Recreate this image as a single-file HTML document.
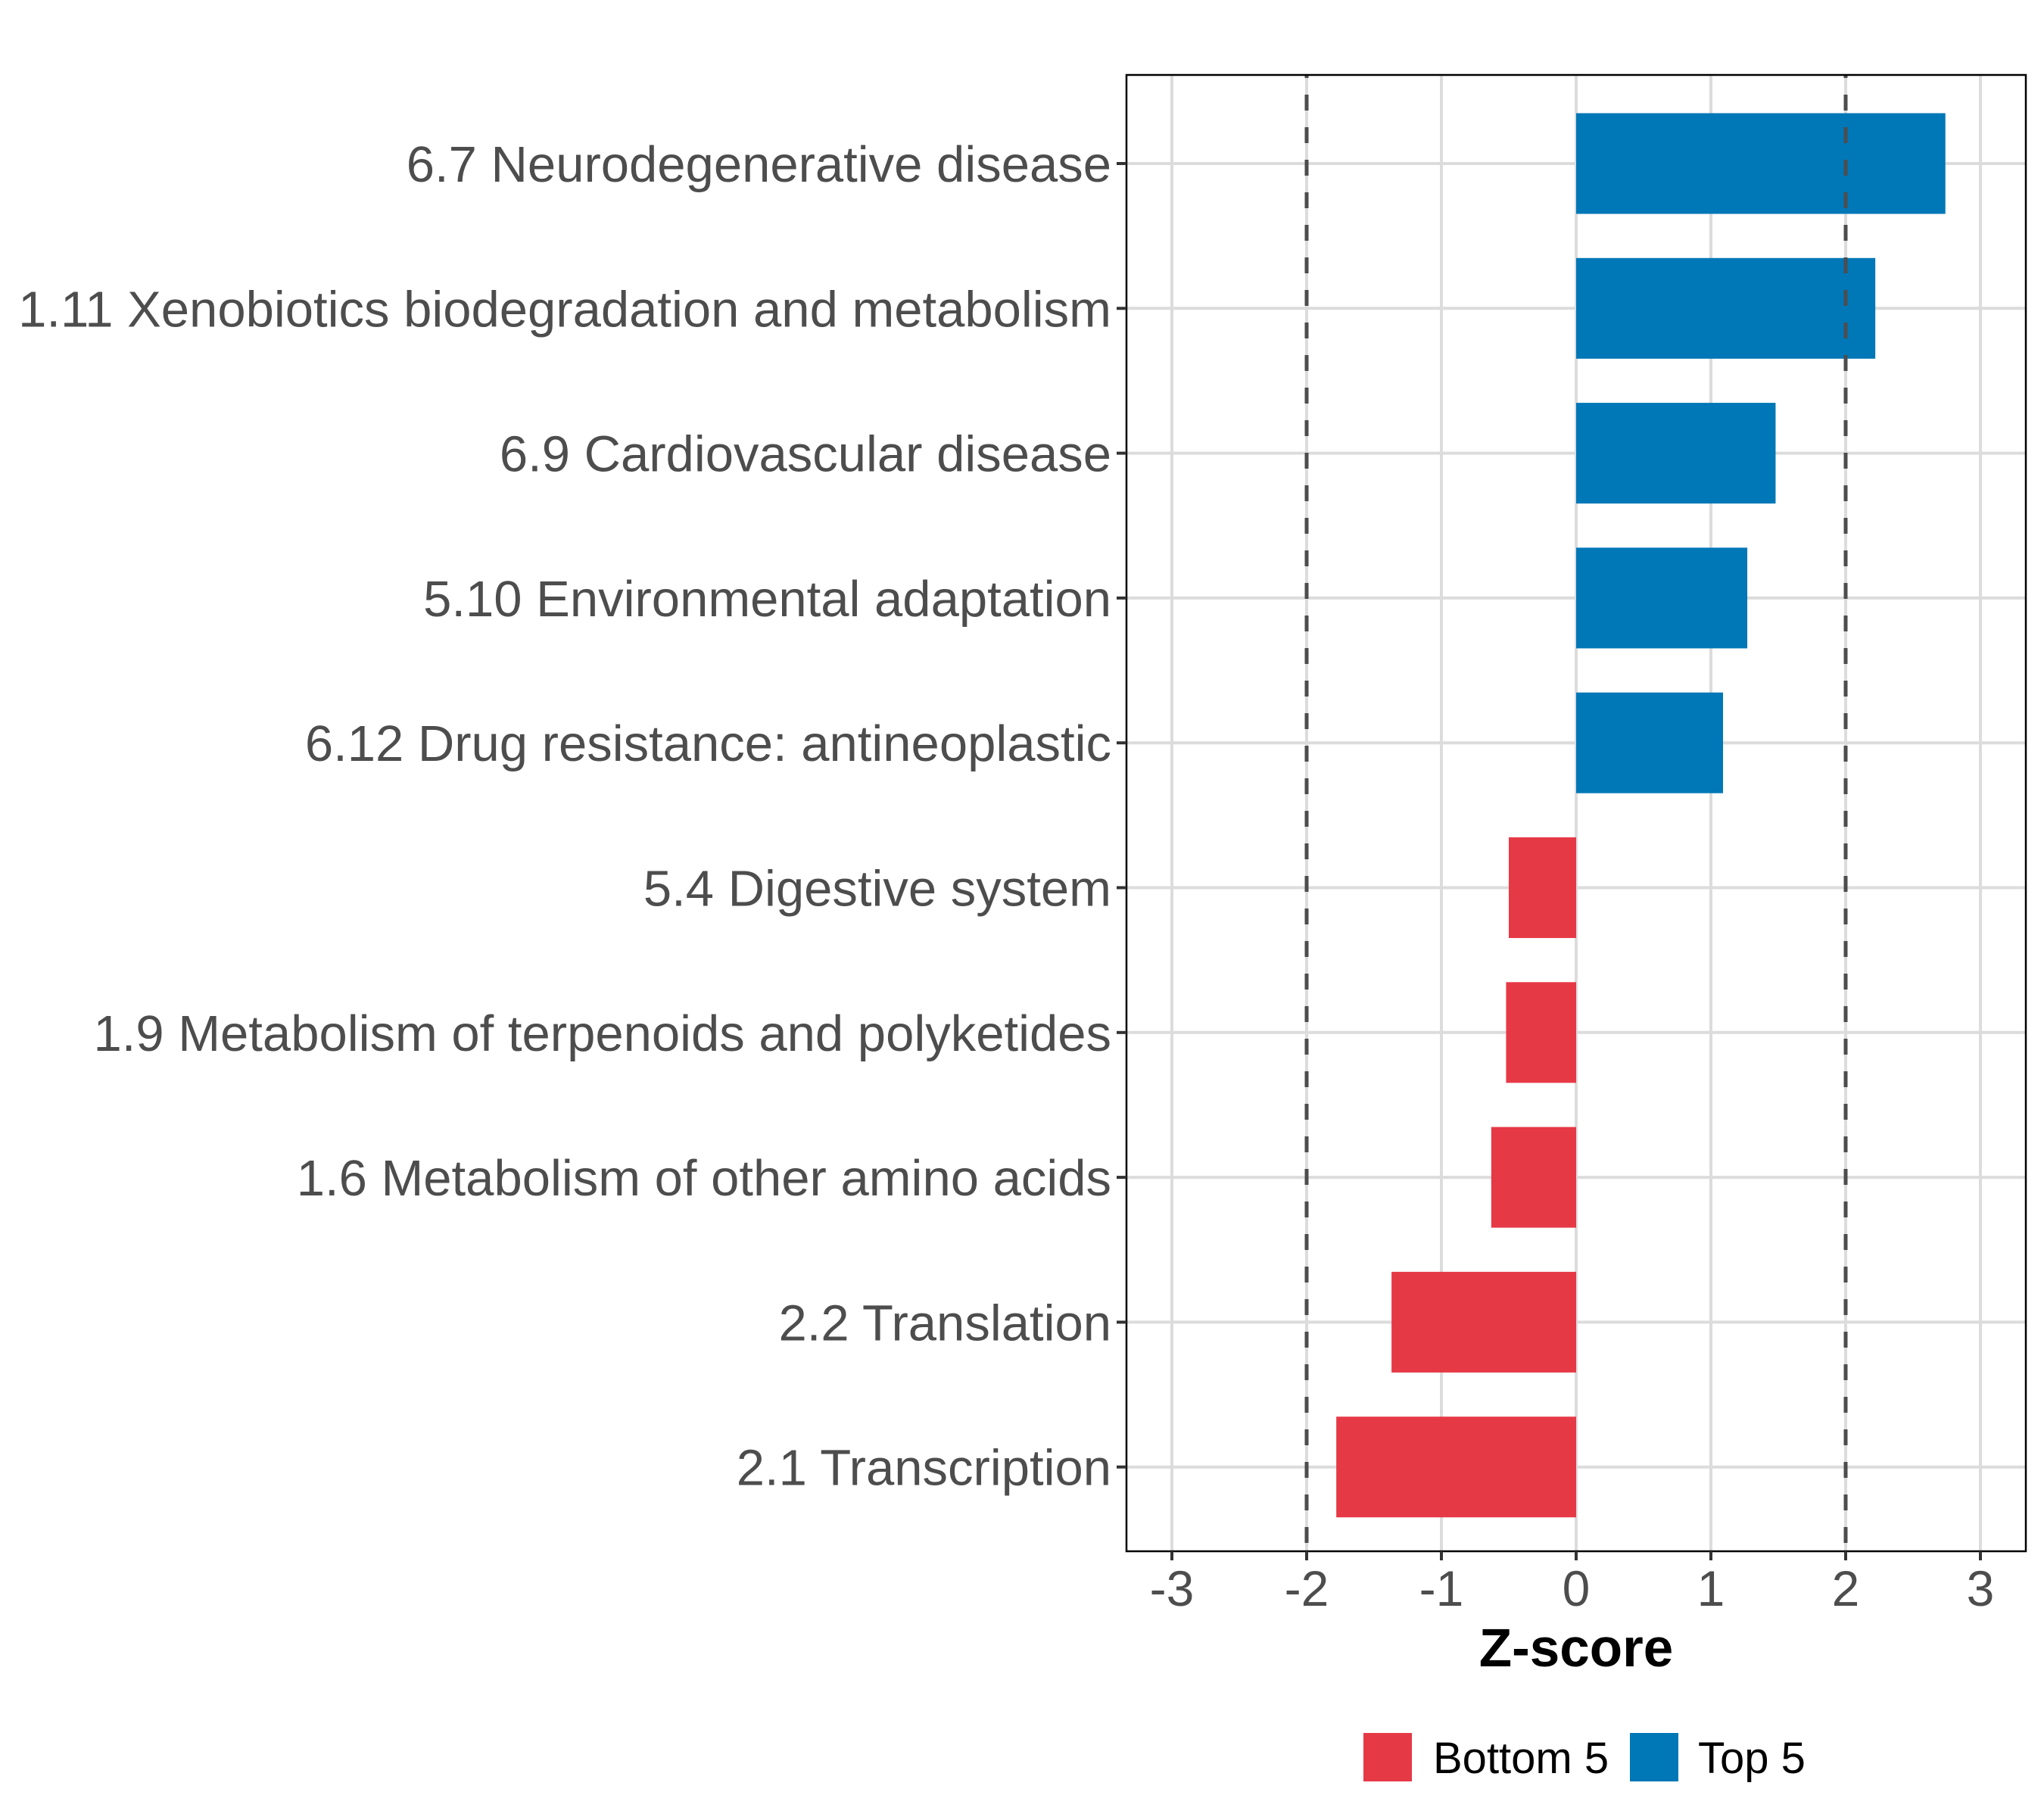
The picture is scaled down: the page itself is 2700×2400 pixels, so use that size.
<!DOCTYPE html>
<html><head><meta charset="utf-8"><style>
html,body{margin:0;padding:0;background:#fff;}
svg{display:block;font-family:"Liberation Sans",Arial,sans-serif;}
</style></head><body>
<svg id="chart" width="2700" height="2400" viewBox="0 0 2700 2400" xmlns="http://www.w3.org/2000/svg">
<g id="grid"></g>
<g id="bars"></g>
<g id="refs"></g>
<rect x="1488" y="99" width="1188" height="1950" fill="none" stroke="#000" stroke-width="2.5"/>
<g id="yaxis"></g>
<g id="xaxis"></g>
<text x="2082" y="2201" text-anchor="middle" font-size="71" font-weight="bold" fill="#000">Z-score</text>
<g>
<rect x="1801" y="2289" width="64" height="64" fill="#E63946"/>
<text x="1893" y="2342" font-size="58" fill="#000">Bottom 5</text>
<rect x="2153" y="2289" width="64" height="64" fill="#0077B6"/>
<text x="2243" y="2342" font-size="58" fill="#000">Top 5</text>
</g>
</svg>
<script>
const categories = ["6.7 Neurodegenerative disease","1.11 Xenobiotics biodegradation and metabolism","6.9 Cardiovascular disease","5.10 Environmental adaptation","6.12 Drug resistance: antineoplastic","5.4 Digestive system","1.9 Metabolism of terpenoids and polyketides","1.6 Metabolism of other amino acids","2.2 Translation","2.1 Transcription"];
const zscores = [2.74, 2.22, 1.48, 1.27, 1.09, -0.50, -0.52, -0.63, -1.37, -1.78];
const groups = ["Top 5","Top 5","Top 5","Top 5","Top 5","Bottom 5","Bottom 5","Bottom 5","Bottom 5","Bottom 5"];
const xTicks = [-3, -2, -1, 0, 1, 2, 3];
const xTickLabels = ["-3","-2","-1","0","1","2","3"];
const refValues = [-2, 2];

const NS = "http://www.w3.org/2000/svg";
const PL = 1488, PR = 2676, PT = 99, PB = 2049;
const x = v => 2082 + v * 178;
const y = i => 216 + i * 191.3;
const colorOf = g => g === "Top 5" ? "#0077B6" : "#E63946";
function mk(tag, attrs, parent) {
  const e = document.createElementNS(NS, tag);
  for (const k in attrs) e.setAttribute(k, attrs[k]);
  parent.appendChild(e);
  return e;
}
const grid = document.getElementById("grid");
const bars = document.getElementById("bars");
const refs = document.getElementById("refs");
const yaxis = document.getElementById("yaxis");
const xaxis = document.getElementById("xaxis");

xTicks.forEach((t, i) => {
  const gl = mk("line", {x1: x(t), x2: x(t), y1: PT, y2: PB, stroke: "#dcdcdc", "stroke-width": 4}, grid);
  
  
  const tk = mk("line", {x1: x(t), x2: x(t), y1: PB, y2: PB + 12, stroke: "#333", "stroke-width": 4}, xaxis);
  
  
  const lb = mk("text", {x: x(t), y: 2121, "text-anchor": "middle", "font-size": 66, fill: "#4d4d4d"}, xaxis);
  lb.textContent = xTickLabels[i];
  
  
});
categories.forEach((c, i) => {
  const gl = mk("line", {x1: PL, x2: PR, y1: y(i), y2: y(i), stroke: "#dcdcdc", "stroke-width": 4}, grid);
  
  
  const v = zscores[i];
  const b = mk("rect", {x: Math.min(x(0), x(v)), y: y(i) - 66.5, width: Math.abs(x(v) - x(0)), height: 133, fill: colorOf(groups[i])}, bars);
  
  
  const tk = mk("line", {x1: PL - 13, x2: PL, y1: y(i), y2: y(i), stroke: "#333", "stroke-width": 4}, yaxis);
  
  
  const lb = mk("text", {x: PL - 20, y: y(i) + 24, "text-anchor": "end", "font-size": 67, fill: "#4d4d4d"}, yaxis);
  lb.textContent = c;
  
  
});
refValues.forEach(r => {
  const l = mk("line", {x1: x(r), x2: x(r), y1: PT, y2: PB, stroke: "#4d4d4d", "stroke-width": 5, "stroke-dasharray": "21 22", "stroke-dashoffset": "-26"}, refs);
  
  
});
</script>
</body></html>
